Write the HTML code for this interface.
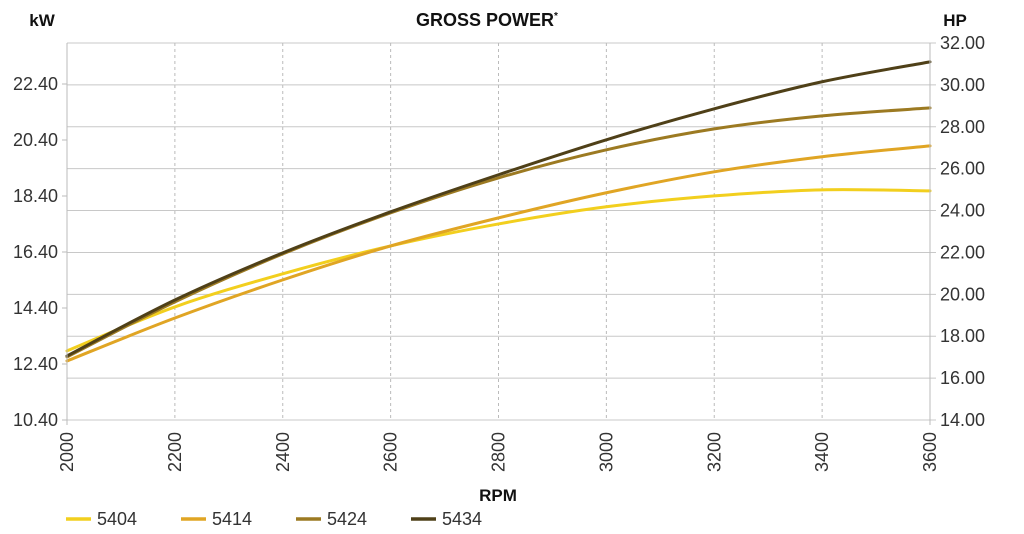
<!DOCTYPE html>
<html><head><meta charset="utf-8"><style>
body{margin:0;background:#fff;font-family:"Liberation Sans",sans-serif}
svg text{font-family:"Liberation Sans",sans-serif}
</style></head><body>
<svg width="1024" height="529" viewBox="0 0 1024 529" id="chart">
<text x="487" y="26" text-anchor="middle" font-size="18" font-weight="bold" fill="#111">GROSS POWER<tspan font-size="10" dy="-7">*</tspan></text>
<text x="42" y="26" text-anchor="middle" font-size="17" font-weight="bold" fill="#111">kW</text>
<text x="955" y="26" text-anchor="middle" font-size="17" font-weight="bold" fill="#111">HP</text>
<text x="498" y="501" text-anchor="middle" font-size="17" font-weight="bold" fill="#111">RPM</text>
<g id="grid"></g><g id="series"></g><g id="axes"></g><g id="legend"></g>
</svg>
<script>
const rpm=[2000,2200,2400,2600,2800,3000,3200,3400,3600];
const s5404=[17.30,19.40,20.98,22.31,23.36,24.18,24.70,24.99,24.94];
const s5414=[16.82,18.87,20.69,22.31,23.65,24.85,25.85,26.57,27.09];
const s5424=[17.01,19.64,21.93,23.89,25.56,26.90,27.90,28.52,28.90];
const s5434=[17.06,19.73,21.98,23.94,25.71,27.38,28.86,30.15,31.10];
const names=["5404","5414","5424","5434"];
const colors=["#f2cf1e","#e0a524","#9c7a22","#4f4018"];
const xTicks=[2000,2200,2400,2600,2800,3000,3200,3400,3600];
const hpTicks=[14,16,18,20,22,24,26,28,30,32];
const kwTicks=[10.4,12.4,14.4,16.4,18.4,20.4,22.4];
const NS="http://www.w3.org/2000/svg";
const X0=67,X1=930,Y0=420,Y1=43;
const x=v=>X0+(v-2000)/1600*(X1-X0);
const yHP=v=>Y0-(v-14)/18*(Y0-Y1);
function mk(t,a,p){const e=document.createElementNS(NS,t);for(const k in a)e.setAttribute(k,a[k]);p.appendChild(e);return e;}
const grid=document.getElementById('grid'),axes=document.getElementById('axes'),ser=document.getElementById('series'),leg=document.getElementById('legend');
hpTicks.forEach(v=>{const l=mk('line',{x1:X0,x2:X1+6,y1:yHP(v),y2:yHP(v),stroke:'#c8c8c8','stroke-width':1},grid);


const t=mk('text',{x:940,y:yHP(v)+6,'font-size':18,fill:'#333'},axes);t.textContent=v.toFixed(2);

});
xTicks.forEach((v,i)=>{if(i>0&&i<xTicks.length-1){const l=mk('line',{x1:x(v),x2:x(v),y1:Y1,y2:Y0,stroke:'#bbb','stroke-dasharray':'3,3'},grid);

}
const t=mk('text',{x:0,y:0,'font-size':18,fill:'#333','text-anchor':'end',transform:`translate(${x(v)+6},${Y0+12}) rotate(-90)`},axes);t.textContent=v;

});
kwTicks.forEach(v=>{const yy=Y0-(v-10.4)*28;const t=mk('text',{x:58,y:yy+6,'font-size':18,fill:'#333','text-anchor':'end'},axes);t.textContent=v.toFixed(2);


const tk=mk('line',{x1:X0-5,x2:X0,y1:yy,y2:yy,stroke:'#bbb'},axes);

});
let a=mk('line',{x1:X0,x2:X0,y1:Y1,y2:Y0+5,stroke:'#bbb'},axes);


a=mk('line',{x1:X1,x2:X1,y1:Y1,y2:Y0+5,stroke:'#bbb'},axes);


function path(vals){const p=rpm.map((r,i)=>[x(r),yHP(vals[i])]);let d=`M${p[0][0]},${p[0][1]}`;
for(let i=0;i<p.length-1;i++){const p0=p[i-1]||p[i],p1=p[i],p2=p[i+1],p3=p[i+2]||p2;
d+=` C${p1[0]+(p2[0]-p0[0])/6},${p1[1]+(p2[1]-p0[1])/6} ${p2[0]-(p3[0]-p1[0])/6},${p2[1]-(p3[1]-p1[1])/6} ${p2[0]},${p2[1]}`;}return d;}
[s5404,s5414,s5424,s5434].forEach((s,i)=>{const e=mk('path',{d:path(s),fill:'none',stroke:colors[i],'stroke-width':3,'stroke-linecap':'round'},ser);


const g=mk('g',{},leg);


const lx=66+i*115;mk('line',{x1:lx,x2:lx+25,y1:519,y2:519,stroke:colors[i],'stroke-width':3.5},g);
const t=mk('text',{x:lx+31,y:525,'font-size':18,fill:'#333'},g);t.textContent=names[i];});
</script>
</body></html>
